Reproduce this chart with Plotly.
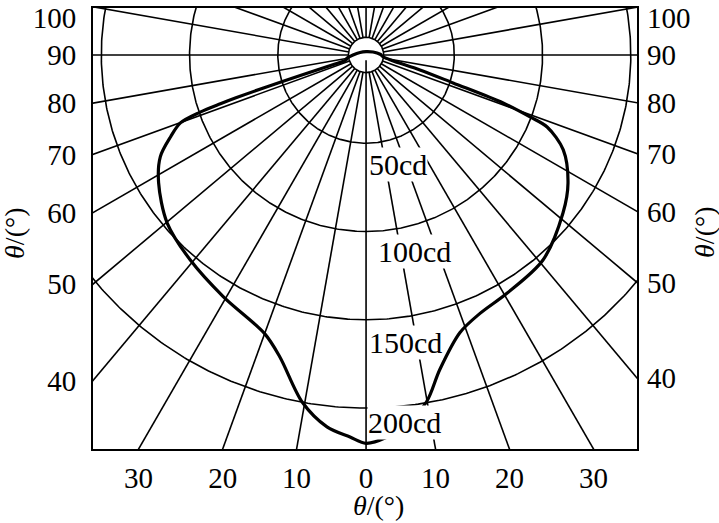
import numpy as np
import plotly.graph_objects as go

# ---------------- data ----------------
ring_cd = [50, 100, 150, 200]
ring_labels = ["50cd", "100cd", "150cd", "200cd"]
spoke_deg = list(range(0, 360, 10))
hole_cd = 10

# luminous intensity curve, angle measured from nadir (deg) -> intensity (cd)
left_deg = [0, 2.4, 6.0, 10.4, 15.9, 20.0, 30.6, 40.6, 49.8, 58.4, 63.7, 67.3,
            69.9, 71.0, 71.5, 71.8, 72.4, 73.3, 76.0, 80.3, 90.0, 112.6, 180.0]
left_cd = [220, 216.6, 211.8, 200, 178, 168, 159, 153, 147.5, 138, 130, 120,
           112, 99.4, 87, 77.6, 51, 23.7, 11.7, 11, 7.4, 3.7, 1.9]
right_deg = [0, 3.0, 6.0, 9.9, 13.2, 18.7, 23.8, 30.6, 40.8, 51.3, 57.6, 64.3,
             68.3, 69.3, 70.7, 72.2, 74.5, 78.0, 84.0, 92.9, 113.0, 180.0]
right_cd = [220, 217, 211, 199.4, 183, 166, 160, 156.8, 153.4, 143, 135.5, 124,
            110.4, 99.3, 82.3, 51.8, 31.7, 15, 9.7, 8, 4.3, 1.9]

side_tick_deg = [40, 50, 60, 70, 80, 90, 100]
bottom_tick_deg = [30, 20, 10, 0, 10, 20, 30]
bottom_tick_side = [-1, -1, -1, 0, 1, 1, 1]

# ---------------- layout constants ----------------
XMIN, XMAX, YMIN, YMAX = -154.7, 153.5, -223.2, 26.6
FONT = "Liberation Serif"
GRID_W = 1.6


def to_xy(deg, cd, side):
    t = np.radians(np.asarray(deg, dtype=float))
    r = np.asarray(cd, dtype=float)
    return side * r * np.sin(t), -r * np.cos(t)


fig = go.Figure()

# spokes
sx, sy = [], []
for a in spoke_deg:
    x, y = to_xy([a, a], [0, 400], 1)
    sx += list(x) + [None]
    sy += list(y) + [None]
fig.add_trace(go.Scatter(x=sx, y=sy, mode="lines", line=dict(color="black", width=GRID_W),
                         hoverinfo="skip", showlegend=False))

# rings
phi = np.linspace(0, 360, 721)
cx, cy = [], []
for R in ring_cd:
    x, y = to_xy(phi, [R] * len(phi), 1)
    cx += list(x) + [None]
    cy += list(y) + [None]
fig.add_trace(go.Scatter(x=cx, y=cy, mode="lines", line=dict(color="black", width=GRID_W),
                         hoverinfo="skip", showlegend=False))

# white centre disc
hx, hy = to_xy(phi, [hole_cd] * len(phi), 1)
fig.add_trace(go.Scatter(x=hx, y=hy, mode="lines", fill="toself", fillcolor="white",
                         line=dict(color="black", width=GRID_W), hoverinfo="skip", showlegend=False))
# nadir axis inside the disc
vx, vy = to_xy([0, 0], [3, hole_cd], 1)
fig.add_trace(go.Scatter(x=vx, y=vy, mode="lines", line=dict(color="black", width=GRID_W),
                         hoverinfo="skip", showlegend=False))

# intensity curve (closed loop)
lx, ly = to_xy(left_deg[::-1], left_cd[::-1], -1)
rx, ry = to_xy(right_deg[1:], right_cd[1:], 1)
fig.add_trace(go.Scatter(x=list(lx) + list(rx), y=list(ly) + list(ry), mode="lines",
                         line=dict(color="black", width=3.2, shape="spline", smoothing=0.9),
                         hoverinfo="skip", showlegend=False))

# dummy trace for right axis
fig.add_trace(go.Scatter(x=[0], y=[0], yaxis="y2", mode="markers", marker=dict(opacity=0),
                         hoverinfo="skip", showlegend=False))

# tick positions where the spokes meet the frame
left_ty = [min(-abs(XMIN) / np.tan(np.radians(d)), YMAX - 5.5) for d in side_tick_deg]
right_ty = [min(-abs(XMAX) / np.tan(np.radians(d)), YMAX - 5.5) for d in side_tick_deg]
bot_tx = [s * abs(YMIN) * np.tan(np.radians(d)) for s, d in zip(bottom_tick_side, bottom_tick_deg)]

tickfont = dict(family=FONT, size=29, color="black")

fig.update_layout(
    width=719, height=523,
    margin=dict(l=93, r=82, t=8, b=74, autoexpand=False),
    paper_bgcolor="white", plot_bgcolor="white",
    showlegend=False,
    xaxis=dict(range=[XMIN, XMAX], showgrid=False, zeroline=False, showline=True, mirror=True,
               linecolor="black", linewidth=2, ticks="", tickvals=bot_tx, automargin=False,
               ticklabeloverflow="allow",
               ticktext=[str(d) for d in bottom_tick_deg], tickfont=tickfont, ticklabelstandoff=2),
    yaxis=dict(range=[YMIN, YMAX], showgrid=False, zeroline=False, showline=True, mirror=True,
               linecolor="black", linewidth=2, ticks="", tickvals=left_ty, automargin=False,
               ticklabeloverflow="allow",
               ticktext=[str(d) for d in side_tick_deg], tickfont=tickfont, ticklabelstandoff=9),
    yaxis2=dict(range=[YMIN, YMAX], overlaying="y", side="right", showgrid=False, zeroline=False,
                showline=False, ticks="", tickvals=right_ty, automargin=False,
                ticklabeloverflow="allow",
                ticktext=[str(d) for d in side_tick_deg], tickfont=tickfont, ticklabelstandoff=9),
)

# ring labels
label_x = [1.0, 6.0, 1.2, 0.8]
label_off = [12.3, 11.6, 12.6, 8.0]
for R, txt, lxp, off in zip(ring_cd, ring_labels, label_x, label_off):
    fig.add_annotation(x=lxp, y=-(R + off), xref="x", yref="y", text=txt, showarrow=False,
                       xanchor="left", yanchor="middle", bgcolor="white", borderpad=0,
                       font=dict(family=FONT, size=30, color="black"))

# axis titles
title_txt = "<i>θ</i>/(°)"
tfont = dict(family=FONT, size=28, color="black")
fig.add_annotation(x=-0.1434, y=0.49, xref="paper", yref="paper", text=title_txt, showarrow=False,
                   textangle=-90, xanchor="center", yanchor="middle", font=tfont)
fig.add_annotation(x=1.125, y=0.49, xref="paper", yref="paper", text=title_txt, showarrow=False,
                   textangle=-90, xanchor="center", yanchor="middle", font=tfont)
fig.add_annotation(x=0.524, y=-0.127, xref="paper", yref="paper", text=title_txt, showarrow=False,
                   xanchor="center", yanchor="middle", font=tfont)

fig.write_html("out.html", config={"displayModeBar": False},
               post_script="document.body.style.margin='0';")
